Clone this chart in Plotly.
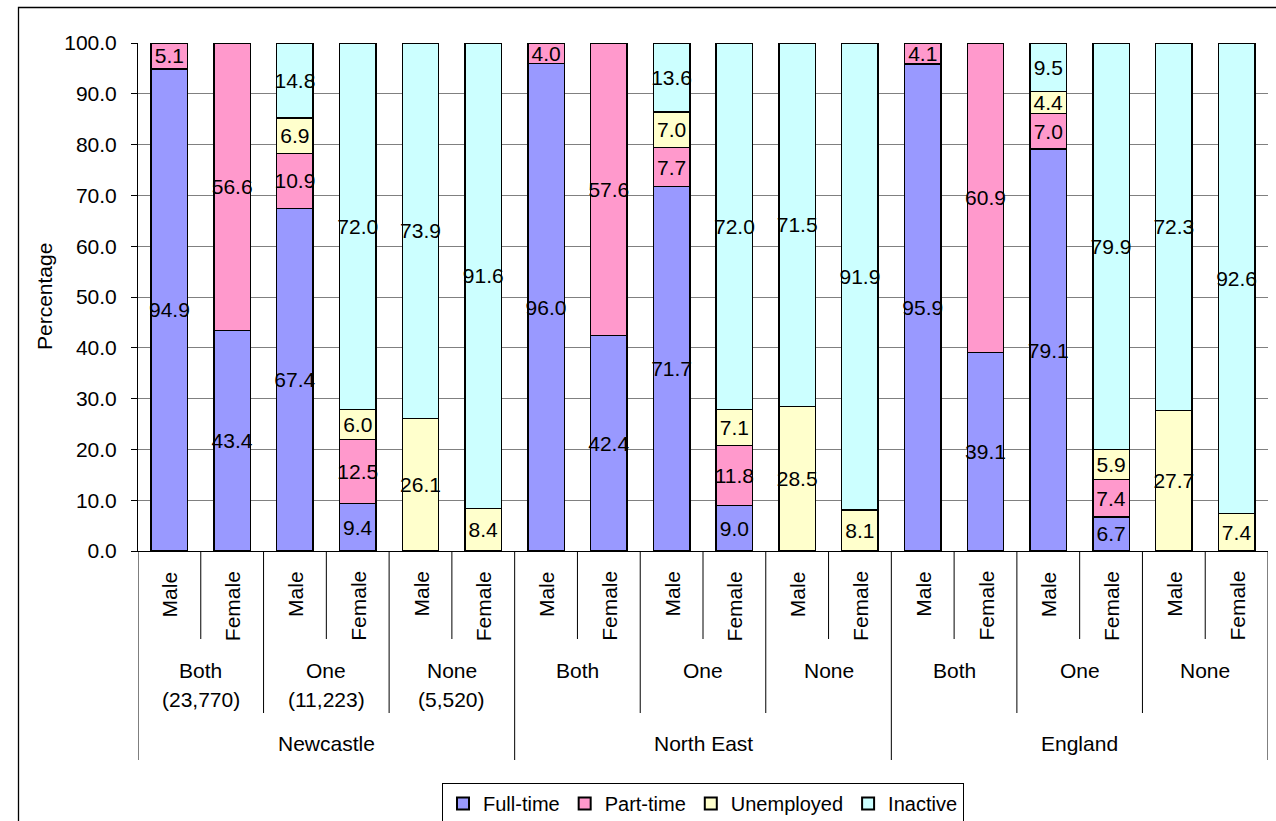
import plotly.graph_objects as go

regions = ["Newcastle", "North East", "England"]
groups = ["Both", "One", "None"]
group_counts = {"Newcastle": ["(23,770)", "(11,223)", "(5,520)"],
                "North East": ["", "", ""],
                "England": ["", "", ""]}
genders = ["Male", "Female"]

full_time = [94.9, 43.4, 67.4, 9.4, 0, 0,
             96.0, 42.4, 71.7, 9.0, 0, 0,
             95.9, 39.1, 79.1, 6.7, 0, 0]
part_time = [5.1, 56.6, 10.9, 12.5, 0, 0,
             4.0, 57.6, 7.7, 11.8, 0, 0,
             4.1, 60.9, 7.0, 7.4, 0, 0]
unemployed = [0, 0, 6.9, 6.0, 26.1, 8.4,
              0, 0, 7.0, 7.1, 28.5, 8.1,
              0, 0, 4.4, 5.9, 27.7, 7.4]
inactive = [0, 0, 14.8, 72.0, 73.9, 91.6,
            0, 0, 13.6, 72.0, 71.5, 91.9,
            0, 0, 9.5, 79.9, 72.3, 92.6]

series = [("Full-time", full_time, "#9999FF"),
          ("Part-time", part_time, "#FF99CC"),
          ("Unemployed", unemployed, "#FFFFCC"),
          ("Inactive", inactive, "#CCFFFF")]

y_ticks = [0, 10, 20, 30, 40, 50, 60, 70, 80, 90, 100]

FONT = "Liberation Sans, Arial, sans-serif"
FS = 21

# figure geometry (pixels)
W, H = 1276, 821
L, R, T, B = 138, 1268, 43, 551
PW, PH = R - L, B - T


def py(p):
    """pixel y -> paper y"""
    return (B - p) / PH


def px(p):
    return (p - L) / PW


n = len(full_time)
xs = list(range(n))

fig = go.Figure()
for name, vals, color in series:
    fig.add_trace(go.Bar(
        x=xs, y=vals, name=name, width=0.58,
        marker=dict(color=color, line=dict(color="black", width=1.4)),
        text=[f"{v:.1f}" if v > 0 else "" for v in vals],
        textposition="inside", insidetextanchor="middle",
        constraintext="none", textangle=0,
        textfont=dict(family=FONT, size=FS, color="black"),
        hoverinfo="skip",
    ))

annotations = []
shapes = []
# gender labels
for i in xs:
    annotations.append(dict(x=i, xref="x", y=py(569), yref="paper",
                            text=genders[i % 2], showarrow=False, textangle=-90,
                            xanchor="center", yanchor="top",
                            font=dict(family=FONT, size=FS, color="black")))
# group labels
for r, region in enumerate(regions):
    for g, grp in enumerate(groups):
        idx = r * 3 + g
        cx = idx * 2 + 0.5
        annotations.append(dict(x=cx, xref="x", y=py(670), yref="paper",
                                text=grp, showarrow=False,
                                xanchor="center", yanchor="middle",
                                font=dict(family=FONT, size=FS, color="black")))
        cnt = group_counts[region][g]
        if cnt:
            annotations.append(dict(x=cx, xref="x", y=py(699), yref="paper",
                                    text=cnt, showarrow=False,
                                    xanchor="center", yanchor="middle",
                                    font=dict(family=FONT, size=FS, color="black")))
    annotations.append(dict(x=r * 6 + 2.5, xref="x", y=py(743), yref="paper",
                            text=region, showarrow=False,
                            xanchor="center", yanchor="middle",
                            font=dict(family=FONT, size=FS, color="black")))

# separator lines of the category axis
for k in range(n + 1):
    if k % 6 == 0:
        depth = 760
    elif k % 2 == 0:
        depth = 713
    else:
        depth = 639
    shapes.append(dict(type="line", xref="x", yref="paper",
                       x0=k - 0.5, x1=k - 0.5, y0=0, y1=py(depth),
                       line=dict(color="black", width=1)))

# y axis title
annotations.append(dict(x=px(44), xref="paper", y=0.5, yref="paper",
                        text="Percentage", showarrow=False, textangle=-90,
                        xanchor="center", yanchor="middle",
                        font=dict(family=FONT, size=FS, color="black")))

# outer chart border (right and bottom edges fall outside the picture)
shapes.append(dict(type="rect", xref="paper", yref="paper",
                   x0=px(18.5), x1=px(1290), y0=py(840), y1=py(7.5),
                   line=dict(color="black", width=1.3), fillcolor="rgba(0,0,0,0)",
                   layer="below"))

fig.update_layout(
    width=W, height=H,
    margin=dict(l=L, r=W - R, t=T, b=H - B, pad=0, autoexpand=False),
    barmode="stack",
    paper_bgcolor="white", plot_bgcolor="white",
    showlegend=True,
    legend=dict(orientation="h", x=0.5, xanchor="center", y=py(783), yanchor="top",
                bordercolor="black", borderwidth=1, bgcolor="white",
                font=dict(family=FONT, size=20, color="black"),
                itemsizing="constant", traceorder="normal", itemwidth=30),
    xaxis=dict(range=[-0.5, n - 0.5], showticklabels=False, showgrid=False,
               zeroline=False, showline=True, linecolor="black", linewidth=1,
               ticks="", fixedrange=True),
    yaxis=dict(range=[0, 100], tickvals=y_ticks,
               ticktext=[f"{v:.1f}" for v in y_ticks],
               showgrid=True, gridcolor="#808080", gridwidth=1,
               zeroline=False, showline=True, linecolor="black", linewidth=1,
               ticks="outside", ticklen=6, tickcolor="black",
               ticklabelstandoff=10,
               tickfont=dict(family=FONT, size=FS, color="black"), fixedrange=True),
    annotations=annotations,
    shapes=shapes,
    font=dict(family=FONT, size=FS, color="black"),
)

fig.write_html("out.html", config={"displayModeBar": False},
               post_script="document.body.style.margin='0';document.body.style.overflow='hidden';")
